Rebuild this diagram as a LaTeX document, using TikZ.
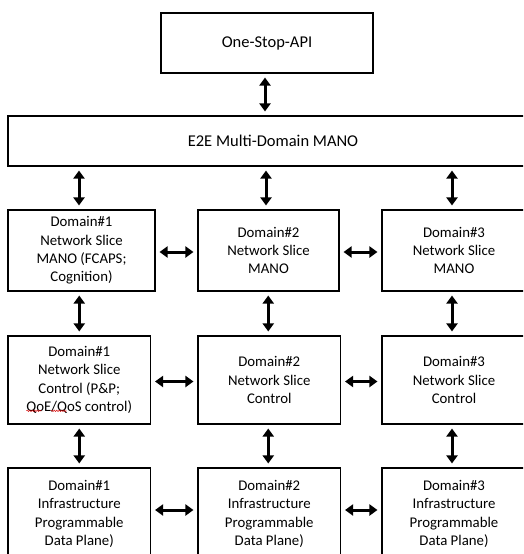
\documentclass[tikz,border=0pt]{standalone}
\usepackage{fontspec}
\setmainfont{Carlito}
\usetikzlibrary{arrows.meta,decorations.pathmorphing}
\tikzset{
  box/.style={draw=black, line width=1.1pt, rectangle, inner sep=0pt, align=center,
    font=\fontsize{14.8pt}{18.3pt}\selectfont, text=black},
  bigtext/.style={font=\fontsize{16.5pt}{20pt}\selectfont},
  arr/.style={line width=3pt, {Triangle[width=11pt,length=8pt]}-{Triangle[width=11pt,length=8pt]},
    shorten <=4pt, shorten >=4pt},
  squig/.style={draw=red!85!black, line width=0.5pt, decorate,
    decoration={snake, amplitude=0.7pt, segment length=2.5pt}}
}
\begin{document}
\begin{tikzpicture}[x=1pt,y=-1pt]
\useasboundingbox (0,0) rectangle (523,554);
\clip (0,0) rectangle (523,554);
\fill[white] (0,0) rectangle (523,554);

\node[box, bigtext, minimum width=212pt, minimum height=60pt] (api) at (267,43) {One-Stop-API};
\node[box, bigtext, minimum width=530pt, minimum height=50pt] (e2e) at (273,141) {E2E Multi-Domain MANO};

\node[box, minimum width=147pt, minimum height=81pt] (d1a) at (81.5,250.5) {Domain\#1\\Network Slice\\MANO (FCAPS;\\Cognition)};
\node[box, minimum width=141pt, minimum height=81pt] (d2a) at (268.5,250.5) {Domain\#2\\Network Slice\\MANO};
\node[box, minimum width=144pt, minimum height=81pt] (d3a) at (454,250.5) {\raisebox{2pt}{\parbox{140pt}{\centering Domain\#3\\Network Slice\\MANO}}};

\node[box, minimum width=142.5pt, minimum height=88pt] (d1b) at (79.25,380) {Domain\#1\\Network Slice\\Control (P\&P;\\QoE/QoS control)};
\node[box, minimum width=142.5pt, minimum height=88pt] (d2b) at (269.25,380) {Domain\#2\\Network Slice\\Control};
\node[box, minimum width=144pt, minimum height=88pt] (d3b) at (454,380) {Domain\#3\\Network Slice\\Control};

\node[box, minimum width=142.5pt, minimum height=92pt] (d1c) at (79.25,514) {Domain\#1\\Infrastructure\\Programmable\\Data Plane)};
\node[box, minimum width=142.5pt, minimum height=92pt] (d2c) at (269.25,514) {Domain\#2\\Infrastructure\\Programmable\\Data Plane)};
\node[box, minimum width=144pt, minimum height=92pt] (d3c) at (454,514) {Domain\#3\\Infrastructure\\Programmable\\Data Plane)};

% vertical arrows
\draw[arr] ([xshift=-2pt]api.south) -- ([xshift=-2pt]api.south |- e2e.north);
\draw[arr] ([xshift=-2.5pt]d1a.north |- e2e.south) -- ([xshift=-2.5pt]d1a.north);
\draw[arr] ([xshift=-2.5pt]d2a.north |- e2e.south) -- ([xshift=-2.5pt]d2a.north);
\draw[arr] ([xshift=-2pt]d3a.north |- e2e.south) -- ([xshift=-2pt]d3a.north);

\draw[arr] (d1b.north |- d1a.south) -- (d1b.north);
\draw[arr] ([xshift=-1pt]d2b.north |- d2a.south) -- ([xshift=-1pt]d2b.north);
\draw[arr] ([xshift=-2pt]d3b.north |- d3a.south) -- ([xshift=-2pt]d3b.north);

\draw[arr] (d1b.south) -- (d1c.north);
\draw[arr] ([xshift=-1pt]d2b.south) -- ([xshift=-1pt]d2c.north);
\draw[arr] ([xshift=-2pt]d3b.south) -- ([xshift=-2pt]d3c.north);

% horizontal arrows
\draw[arr] ([yshift=-1.5pt]d1a.east) -- ([yshift=-1.5pt]d1a.east -| d2a.west);
\draw[arr] ([yshift=-1.5pt]d2a.east) -- ([yshift=-1.5pt]d2a.east -| d3a.west);
\draw[arr] ([yshift=-1.5pt]d1b.east) -- ([yshift=-1.5pt]d1b.east -| d2b.west);
\draw[arr] ([yshift=-1.5pt]d2b.east) -- ([yshift=-1.5pt]d2b.east -| d3b.west);
\draw[arr] ([yshift=4pt]d1c.east) -- ([yshift=4pt]d1c.east -| d2c.west);
\draw[arr] ([yshift=4pt]d2c.east) -- ([yshift=4pt]d2c.east -| d3c.west);

% spell-check marks
\draw[squig] (26.5,410.8) -- (41.5,410.8);
\draw[squig] (51,410.8) -- (66.5,410.8);
\end{tikzpicture}
\end{document}
